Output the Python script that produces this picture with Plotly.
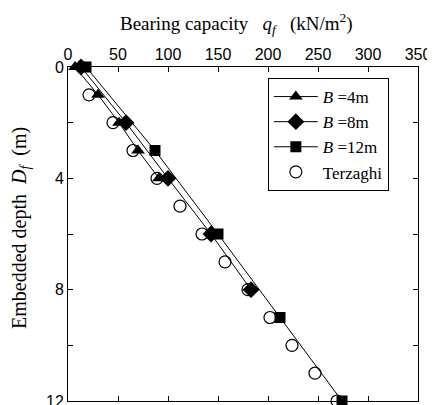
import plotly.graph_objects as go

# Data
depth_b4 = [0, 1, 2, 3, 4]
qf_b4 = [7, 30, 51, 70, 91]

depth_b8 = [0, 2, 4, 6, 8]
qf_b8 = [13, 58, 100, 143, 183]

depth_b12 = [0, 3, 6, 9, 12]
qf_b12 = [18, 87, 150, 212, 274]

depth_terz = [1, 2, 3, 4, 5, 6, 7, 8, 9, 10, 11, 12]
qf_terz = [21, 45, 65, 89, 112, 134, 157, 180, 202, 224, 247, 269]

x_ticks = [0, 50, 100, 150, 200, 250, 300, 350]
y_ticks = [0, 2, 4, 6, 8, 10, 12]
y_ticktext = ["0", " ", "4", " ", "8", " ", "12"]

x_title = "Bearing capacity&nbsp;&nbsp; <i>q<sub>f</sub></i> &nbsp;&nbsp;(kN/m<sup>2</sup>)"
y_title = "Embedded depth  <i>D<sub>f</sub></i>  (m)"

SERIF = "Liberation Serif"
SANS = "Liberation Sans"

# page body has an 8px margin, so the figure is drawn from (8, 8)
W, H = 427, 397
L, R, T, B = 60, 17, 59, 4
pw, ph = W - L - R, H - T - B

fig = go.Figure()
line_style = dict(color="black", width=1)
fig.add_trace(go.Scatter(x=qf_b4, y=depth_b4, mode="lines+markers", name="<i>B</i> =4m",
                         line=line_style, cliponaxis=False,
                         marker=dict(symbol="triangle-up", size=12, color="black")))
fig.add_trace(go.Scatter(x=qf_b8, y=depth_b8, mode="lines+markers", name="<i>B</i> =8m",
                         line=line_style, cliponaxis=False,
                         marker=dict(symbol="diamond", size=13, color="black")))
fig.add_trace(go.Scatter(x=qf_b12, y=depth_b12, mode="lines+markers", name="<i>B</i> =12m",
                         line=line_style, cliponaxis=False,
                         marker=dict(symbol="square", size=11, color="black")))
fig.add_trace(go.Scatter(x=qf_terz, y=depth_terz, mode="markers", name="Terzaghi",
                         cliponaxis=False,
                         marker=dict(symbol="circle-open", size=12, color="black",
                                     line=dict(width=1.2, color="black"))))

fig.update_layout(
    width=W, height=H,
    margin=dict(l=L, r=R, t=T, b=B, autoexpand=False),
    plot_bgcolor="white", paper_bgcolor="white",
    showlegend=True,
    legend=dict(x=0.571, y=0.967, xanchor="left", yanchor="top",
                bgcolor="white", bordercolor="black", borderwidth=1,
                font=dict(family=SERIF, size=17, color="black"),
                itemwidth=44, tracegroupgap=0),
    xaxis=dict(
        side="top", range=[0, 350], tickvals=x_ticks, automargin=False,
        ticks="inside", ticklen=5, tickcolor="black", mirror="ticks",
        showline=True, linecolor="black", linewidth=1, showgrid=False, zeroline=False,
        ticklabeloverflow="allow",
        tickfont=dict(family=SANS, size=16, color="black"),
    ),
    yaxis=dict(
        range=[12, 0], tickvals=y_ticks, ticktext=y_ticktext, automargin=False,
        ticks="inside", ticklen=5, tickcolor="black", mirror="ticks",
        showline=True, linecolor="black", linewidth=1, showgrid=False, zeroline=False,
        ticklabeloverflow="allow",
        tickfont=dict(family=SANS, size=16, color="black"),
    ),
    annotations=[
        dict(text=x_title, xref="paper", yref="paper", showarrow=False,
             x=(228 - L) / pw, y=(H - 15 - B) / ph, xanchor="center", yanchor="middle",
             font=dict(family=SERIF, size=19, color="black")),
        dict(text=y_title, xref="paper", yref="paper", showarrow=False, textangle=-90,
             x=(12 - L) / pw, y=(H - 220 - B) / ph, xanchor="center", yanchor="middle",
             font=dict(family=SERIF, size=20, color="black")),
    ],
)

fig.write_html("out.html")
